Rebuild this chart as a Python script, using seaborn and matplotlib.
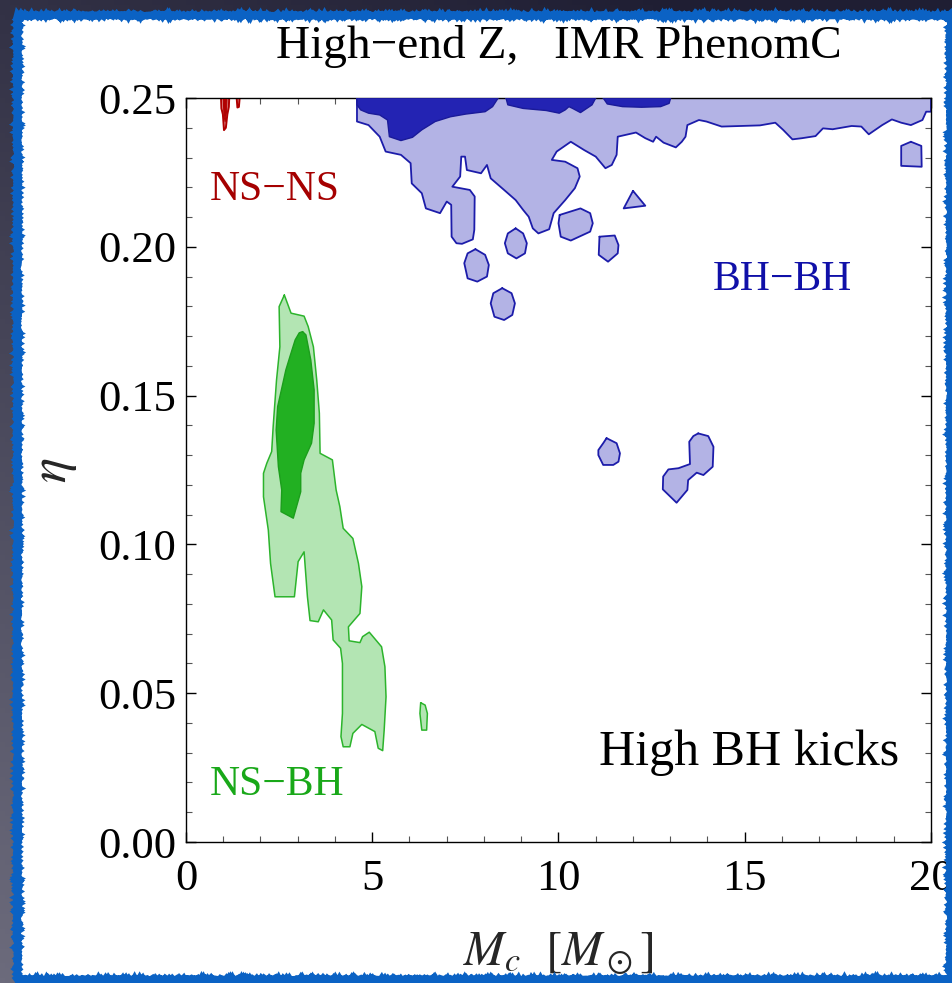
import numpy as np
import pandas as pd
import matplotlib
matplotlib.use("Agg")
import matplotlib.pyplot as plt
from matplotlib.patches import Rectangle
from matplotlib.ticker import MultipleLocator
import seaborn as sns

# ---------------- credible-region outlines (chirp mass Mc [Msun], eta) ----------------
# NS-BH, outer (light) region
nsbh_outer_mc = [2.64, 2.82, 3.17, 3.28, 3.42, 3.51, 3.58, 3.60, 3.93, 4.03, 4.13, 4.22, 4.48, 4.63,
                 4.72, 4.67, 4.36, 4.38, 4.67, 4.74, 4.92, 5.25, 5.34, 5.37, 5.32, 5.28, 5.16, 5.07,
                 4.72, 4.48, 4.40, 4.22, 4.16, 4.20, 4.20, 4.15, 3.95, 3.91, 3.69, 3.55, 3.33, 3.26,
                 3.17, 3.01, 2.91, 2.39, 2.27, 2.21, 2.08, 2.08, 2.17, 2.30, 2.34, 2.43, 2.52, 2.50]
nsbh_outer_eta = [0.1838, 0.1777, 0.1767, 0.1732, 0.1664, 0.1552, 0.1441, 0.1306, 0.1284, 0.1183,
                  0.1127, 0.1054, 0.1020, 0.0936, 0.0858, 0.0768, 0.0723, 0.0676, 0.0670, 0.0690,
                  0.0705, 0.0656, 0.0589, 0.0488, 0.0376, 0.0307, 0.0315, 0.0371, 0.0395, 0.0365,
                  0.0320, 0.0320, 0.0354, 0.0432, 0.0600, 0.0651, 0.0679, 0.0746, 0.0780, 0.0740,
                  0.0744, 0.0824, 0.0975, 0.0942, 0.0824, 0.0824, 0.0936, 0.1048, 0.1160, 0.1239,
                  0.1273, 0.1312, 0.1396, 0.1552, 0.1664, 0.1799]
# NS-BH, small outer island
nsbh_island_mc = [6.30, 6.42, 6.48, 6.46, 6.33, 6.28]
nsbh_island_eta = [0.0468, 0.0460, 0.0432, 0.0376, 0.0376, 0.0432]
# NS-BH, inner (dark) region
nsbh_inner_mc = [3.13, 3.22, 3.35, 3.44, 3.44, 3.37, 3.17, 3.08, 3.08, 2.88, 2.55, 2.57, 2.48,
                 2.42, 2.46, 2.60, 2.68, 2.79, 2.93, 3.04]
nsbh_inner_eta = [0.1715, 0.1704, 0.1620, 0.1519, 0.1407, 0.1340, 0.1284, 0.1239, 0.1177, 0.1088,
                  0.1110, 0.1183, 0.1261, 0.1384, 0.1463, 0.1541, 0.1586, 0.1631, 0.1687, 0.1711]

# BH-BH, outer (light) region hanging from the equal-mass edge
bbh_outer_mc = [4.59, 4.59, 4.90, 5.20, 5.36, 5.77, 6.03, 6.06, 6.33, 6.44, 6.82, 7.00, 7.12, 7.13,
                7.26, 7.41, 7.70, 7.74, 7.75, 7.62, 7.15, 7.36, 7.39, 7.49, 7.54, 7.92, 8.08, 8.18,
                8.54, 8.85, 9.05, 9.20, 9.31, 9.46, 9.75, 9.87, 10.18, 10.44, 10.57, 10.51, 10.18,
                9.82, 9.95, 10.33, 10.69, 11.00, 11.26, 11.43, 11.56, 11.59, 12.08, 12.33, 12.54,
                12.62, 12.82, 13.15, 13.31, 13.41, 13.46, 13.77, 13.97, 14.38, 14.90, 15.41, 15.82,
                16.03, 16.28, 16.54, 16.90, 17.10, 17.36, 17.87, 18.13, 18.33, 18.69, 18.95, 19.20,
                19.46, 19.77, 19.87, 20.0, 20.0]
bbh_outer_eta = [0.25, 0.2421, 0.2409, 0.2370, 0.2320, 0.2309, 0.2281, 0.2213, 0.2180, 0.2129,
                 0.2113, 0.2152, 0.2141, 0.2034, 0.2012, 0.2010, 0.2025, 0.2057, 0.2169, 0.2191,
                 0.2202, 0.2236, 0.2303, 0.2303, 0.2258, 0.2247, 0.2275, 0.2230, 0.2191, 0.2157,
                 0.2124, 0.2101, 0.2062, 0.2045, 0.2059, 0.2113, 0.2157, 0.2197, 0.2236, 0.2264,
                 0.2286, 0.2292, 0.2320, 0.2353, 0.2325, 0.2303, 0.2264, 0.2275, 0.2309, 0.2370,
                 0.2384, 0.2365, 0.2353, 0.2370, 0.2350, 0.2334, 0.2353, 0.2370, 0.2409, 0.2426,
                 0.2421, 0.2404, 0.2406, 0.2408, 0.2417, 0.2393, 0.2361, 0.2365, 0.2372, 0.2398,
                 0.2395, 0.2406, 0.2404, 0.2378, 0.2409, 0.2428, 0.2417, 0.2409, 0.2426, 0.2454,
                 0.2454, 0.25]
# BH-BH, outer (light) islands
bbh_islands_mc = [
    [8.85, 9.05, 9.15, 9.10, 8.87, 8.64, 8.56, 8.64],
    [7.77, 8.03, 8.13, 8.08, 7.82, 7.56, 7.47, 7.56],
    [8.49, 8.74, 8.83, 8.76, 8.54, 8.28, 8.18, 8.25],
    [10.03, 10.59, 10.85, 10.92, 10.85, 10.33, 10.06, 10.00],
    [11.10, 11.51, 11.61, 11.59, 11.33, 11.08],
    [12.00, 12.33, 11.75],
    [19.46, 19.74, 19.75, 19.20, 19.20],
    [11.29, 11.56, 11.65, 11.61, 11.47, 11.20, 11.07, 11.07, 11.20],
    [13.75, 14.02, 14.16, 14.14, 13.89, 13.71, 13.48, 13.46, 13.17, 12.80, 12.81, 12.95, 13.22,
     13.53, 13.51, 13.62],
]
bbh_islands_eta = [
    [0.2062, 0.2045, 0.2012, 0.1978, 0.1961, 0.1978, 0.2012, 0.2045],
    [0.1992, 0.1973, 0.1939, 0.1900, 0.1883, 0.1894, 0.1945, 0.1978],
    [0.1861, 0.1844, 0.1810, 0.1771, 0.1754, 0.1765, 0.1810, 0.1844],
    [0.2107, 0.2129, 0.2113, 0.2079, 0.2051, 0.2021, 0.2034, 0.2079],
    [0.2034, 0.2038, 0.2006, 0.1978, 0.1950, 0.1973],
    [0.2188, 0.2138, 0.2129],
    [0.2353, 0.2339, 0.2269, 0.2272, 0.2339],
    [0.1357, 0.1340, 0.1306, 0.1278, 0.1267, 0.1267, 0.1300, 0.1317, 0.1340],
    [0.1373, 0.1364, 0.1328, 0.1261, 0.1233, 0.1241, 0.1216, 0.1183, 0.1140, 0.1185, 0.1228,
     0.1252, 0.1256, 0.1270, 0.1345, 0.1364],
]
# BH-BH, inner (dark) regions along the eta = 0.25 edge
bbh_inner_mc = [
    [4.59, 4.59, 4.69, 4.90, 5.20, 5.41, 5.46, 5.77, 6.08, 6.33, 6.69, 7.10, 7.51, 8.03, 8.23, 8.38],
    [8.59, 8.64, 9.05, 9.67, 10.02, 10.18, 10.28, 10.38, 10.59, 10.90, 11.00],
    [11.20, 11.31, 11.72, 12.23, 12.74, 12.97, 13.01],
]
bbh_inner_eta = [
    [0.25, 0.2477, 0.2460, 0.2449, 0.2443, 0.2426, 0.2370, 0.2357, 0.2368, 0.2393, 0.2421,
     0.2437, 0.2446, 0.2454, 0.2471, 0.25],
    [0.25, 0.2477, 0.2465, 0.2458, 0.2449, 0.2460, 0.2471, 0.2465, 0.2451, 0.2477, 0.25],
    [0.25, 0.2480, 0.2471, 0.2469, 0.2471, 0.2482, 0.25],
]

# NS-NS, narrow spikes just below eta = 0.25
nsns_outer_mc = [[0.94, 0.95, 0.99, 1.02, 1.07, 1.11, 1.15, 1.16], [1.36, 1.38, 1.42, 1.44]]
nsns_outer_eta = [[0.25, 0.2465, 0.2445, 0.2392, 0.2400, 0.2445, 0.2470, 0.25],
                  [0.25, 0.2468, 0.2470, 0.25]]
nsns_inner_mc = [1.00, 1.02, 1.05, 1.09, 1.10]
nsns_inner_eta = [0.2495, 0.2440, 0.2420, 0.2455, 0.2495]

# ---------------- annotation text ----------------
title_text = "High\u2212end Z,   IMR PhenomC"
label_nsns = "NS\u2212NS"
label_bbh = "BH\u2212BH"
label_nsbh = "NS\u2212BH"
label_kicks = "High BH kicks"
x_ticks = [0, 5, 10, 15, 20]
y_ticks = [0.00, 0.05, 0.10, 0.15, 0.20, 0.25]

# ---------------- style ----------------
sns.set_theme(style="ticks")
plt.rcParams["font.family"] = ["Liberation Serif", "DejaVu Serif"]
plt.rcParams["mathtext.fontset"] = "stix"

GREEN_LIGHT, GREEN_DARK, GREEN_EDGE = "#b3e5b3", "#22b022", "#2cb42c"
BLUE_LIGHT, BLUE_DARK, BLUE_EDGE = "#b3b3e5", "#2323b3", "#1c1caa"
RED_LIGHT, RED_DARK = "#e3a0a0", "#b00000"

W, H = 953, 983
fig = plt.figure(figsize=(W / 100, H / 100), dpi=100)

# dark slide background with a soft gradient
bg = fig.add_axes([0, 0, 1, 1], zorder=-10)
gx, gy = np.meshgrid(np.linspace(0, 1, 200), np.linspace(0, 1, 200))
t = np.clip(0.75 * gy + 0.35 * (1 - gx) - 0.1, 0, 1)
dark = np.array([0x1f, 0x1e, 0x33]) / 255
light = np.array([0x6c, 0x6b, 0x7c]) / 255
grad = dark[None, None, :] * (1 - t[..., None]) + light[None, None, :] * t[..., None]
bg.imshow(grad, extent=[0, 1, 0, 1], aspect="auto", origin="upper")
bg.set_axis_off()

# white card with a brushed blue frame
px = lambda v: v / W
py = lambda v: 1 - v / H
card = Rectangle((px(17), py(979)), px(950) - px(17), py(15) - py(979),
                 transform=fig.transFigure, facecolor="white", edgecolor="none", zorder=-5)
fig.add_artist(card)
frame = Rectangle((px(17), py(979)), px(950) - px(17), py(15) - py(979),
                  transform=fig.transFigure, facecolor="none", edgecolor="#0b62c4",
                  lw=5.0, zorder=20)
frame.set_sketch_params(scale=1.0, length=3, randomness=2)
fig.add_artist(frame)
frame_core = Rectangle((px(17), py(979)), px(950) - px(17), py(15) - py(979),
                       transform=fig.transFigure, facecolor="none", edgecolor="#0b62c4",
                       lw=3.5, zorder=20)
fig.add_artist(frame_core)

ax = fig.add_axes([px(186), py(842), px(931) - px(186), py(98) - py(842)])
ax.set_facecolor("white")


def draw_region(mcs, etas, face, edge, lw, z):
    ax.fill(mcs, etas, facecolor=face, edgecolor="none", zorder=z)
    df = pd.DataFrame({"Mc": list(mcs) + [mcs[0]], "eta": list(etas) + [etas[0]]})
    df["poly"] = 0
    sns.lineplot(data=df, x="Mc", y="eta", units="poly", estimator=None, sort=False,
                 color=edge, lw=lw, ax=ax, zorder=z + 0.5, legend=False)


# NS-BH
draw_region(nsbh_outer_mc, nsbh_outer_eta, GREEN_LIGHT, GREEN_EDGE, 1.1, 2)
draw_region(nsbh_island_mc, nsbh_island_eta, GREEN_LIGHT, GREEN_EDGE, 1.1, 2)
draw_region(nsbh_inner_mc, nsbh_inner_eta, GREEN_DARK, "#1c9e1c", 1.0, 3)

# BH-BH
draw_region(bbh_outer_mc, bbh_outer_eta, BLUE_LIGHT, BLUE_EDGE, 1.3, 2)
for m, e in zip(bbh_islands_mc, bbh_islands_eta):
    draw_region(m, e, BLUE_LIGHT, BLUE_EDGE, 1.3, 2)
for m, e in zip(bbh_inner_mc, bbh_inner_eta):
    draw_region(m, e, BLUE_DARK, "#1a1a99", 1.0, 3)

# NS-NS
for m, e in zip(nsns_outer_mc, nsns_outer_eta):
    draw_region(m, e, RED_LIGHT, RED_DARK, 1.4, 2)
draw_region(nsns_inner_mc, nsns_inner_eta, RED_DARK, RED_DARK, 0.8, 3)

# axes, ticks
ax.set_xlim(0, 20)
ax.set_ylim(0, 0.25)
ax.set_xticks(x_ticks)
ax.set_yticks(y_ticks)
ax.set_xticklabels([f"{v:d}" for v in x_ticks])
ax.set_yticklabels([f"{v:.2f}" for v in y_ticks])
ax.xaxis.set_minor_locator(MultipleLocator(1))
ax.yaxis.set_minor_locator(MultipleLocator(0.01))
ax.tick_params(which="both", direction="in", top=True, right=True, colors="black")
ax.tick_params(which="major", length=7.5, width=1.0, labelsize=32)
ax.tick_params(axis="x", which="major", pad=12)
ax.tick_params(axis="y", which="major", pad=7)
ax.tick_params(which="minor", length=4.5, width=0.8, color="#555555")
for s in ax.spines.values():
    s.set_color("black")
    s.set_linewidth(1.0)
ax.set_xlabel(r"$M_c\ \ [M_\odot]$", fontsize=35)
ax.xaxis.set_label_coords(0.5, -0.118)
ax.set_ylabel(r"$\eta$", fontsize=38)
ax.yaxis.set_label_coords(-0.1436, 0.5)
ax.set_title(title_text, fontsize=34, pad=29, color="black")

# annotations
ax.text(0.64, 0.2157, label_nsns, color="#a50000", fontsize=30, ha="left", va="baseline")
ax.text(14.15, 0.1855, label_bbh, color="#1010a8", fontsize=30, ha="left", va="baseline")
ax.text(0.64, 0.0158, label_nsbh, color="#19a819", fontsize=30, ha="left", va="baseline")
ax.text(19.14, 0.0259, label_kicks, color="black", fontsize=36, ha="right", va="baseline")

fig.savefig("out.png", dpi=100)
